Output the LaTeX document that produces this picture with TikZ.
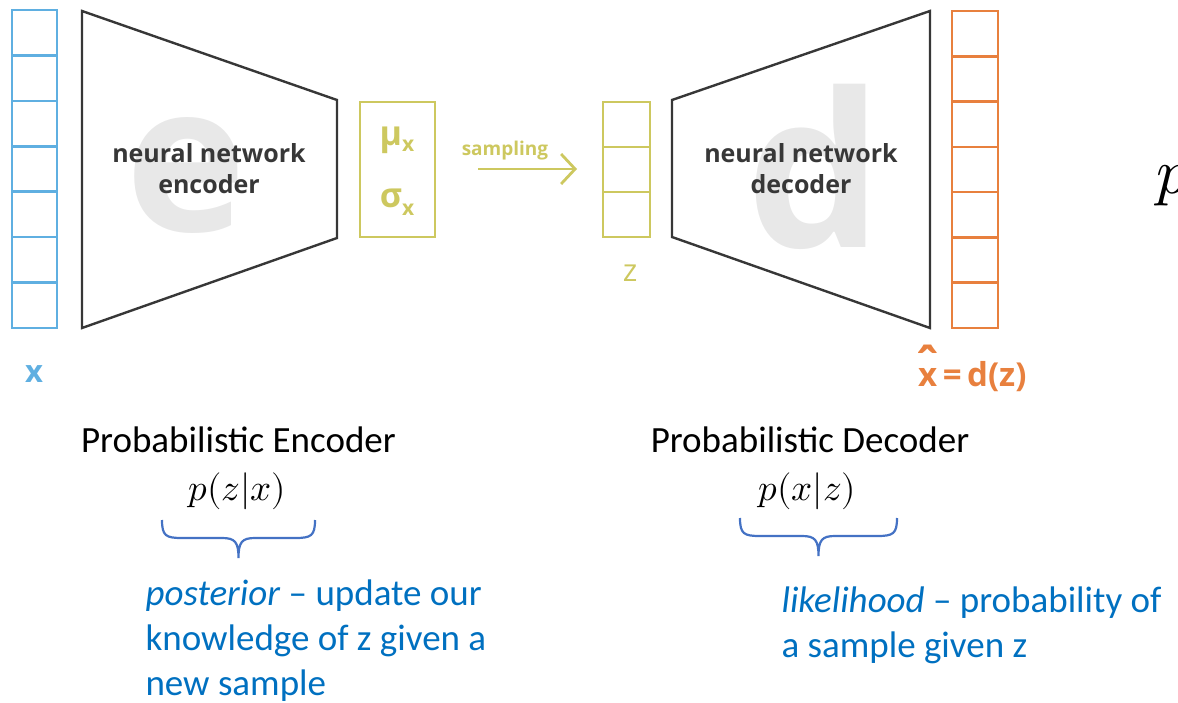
\documentclass[tikz,border=0pt]{standalone}
\usepackage{fontspec}
\usepackage{unicode-math}
\setmainfont{Carlito}
\setmathfont{Latin Modern Math}
\newfontfamily\osans{Open Sans}
\usetikzlibrary{arrows.meta}

\definecolor{inblue}{RGB}{95,175,225}
\definecolor{olive}{RGB}{205,200,95}
\definecolor{outorange}{RGB}{232,128,62}
\definecolor{netgray}{RGB}{55,55,55}
\definecolor{markgray}{RGB}{232,232,232}
\definecolor{bracecol}{RGB}{68,114,196}
\definecolor{notecol}{RGB}{0,112,192}

\tikzset{
  cellcol/.style={line width=2.6pt},
  net/.style={draw=netgray, line width=2.4pt, line join=miter},
  netlabel/.style={font=\osans\bfseries\fontsize{25}{31}\selectfont, text=netgray, align=center},
  watermark/.style={text=markgray, anchor=base},
  caption/.style={font=\fontsize{37}{44}\selectfont, anchor=base},
  formula/.style={font=\fontsize{37}{42}\selectfont},
  note/.style={font=\fontsize{37}{44}\selectfont, text=notecol, anchor=base west},
  curly/.style={draw=bracecol, line width=2.2pt},
}

\begin{document}
\begin{tikzpicture}[x=1pt,y=-1pt]
\useasboundingbox (0,0) rectangle (1178,703);

% ---------- input vector x ----------
\foreach \i in {0,...,6} {
  \draw[cellcol, draw=inblue] (12,{10+\i*45.43}) rectangle (57,{10+(\i+1)*45.43});
}
\coordinate (xin) at (34.5,169);
\node[font=\osans\bfseries\fontsize{31}{34}\selectfont, text=inblue] (xlab) at (34,374) {x};

% ---------- encoder ----------
\node[watermark, font=\osans\bfseries\fontsize{205}{205}\selectfont] (emark) at (186,232) {e};
\coordinate (e1) at (82,11);
\coordinate (e2) at (337,100);
\coordinate (e3) at (337,238);
\coordinate (e4) at (82,328);
\draw[net] (e1) -- (e2) -- (e3) -- (e4) -- cycle;
\node[netlabel] (enc) at (209,169) {neural network\\encoder};

% ---------- mean / std box ----------
\node[draw=olive, line width=2.6pt, minimum width=75pt, minimum height=135pt] (musig) at (397.5,169.5) {};
\node[font=\osans\bfseries\fontsize{34}{34}\selectfont, text=olive, anchor=base] (mu) at (397,146)
  {µ\raisebox{-6pt}{\fontsize{21}{21}\selectfont x}};
\node[font=\osans\bfseries\fontsize{34}{34}\selectfont, text=olive, anchor=base] (sig) at (397,208)
  {σ\raisebox{-8pt}{\fontsize{21}{21}\selectfont x}};

% ---------- sampling arrow ----------
\node[font=\osans\bfseries\fontsize{19}{22}\selectfont, text=olive] (samp) at (505,151) {sampling};
\coordinate (s1) at (478,169);
\coordinate (s2) at (577,169);
\draw[draw=olive, line width=2.8pt, -{Straight Barb[length=14pt, width=30pt, line width=2.8pt]}] (s1) -- (s2);

% ---------- latent z ----------
\foreach \i in {0,1,2} {
  \draw[cellcol, draw=olive] (603,{102+\i*45}) rectangle (650,{102+(\i+1)*45});
}
\node[font=\osans\fontsize{31}{34}\selectfont, text=olive] (zlab) at (630,273) {z};

% ---------- decoder ----------
\node[watermark, font=\osans\bfseries\fontsize{215}{215}\selectfont] (dmark) at (815,248) {d};
\coordinate (d1) at (672,100);
\coordinate (d2) at (930,11);
\coordinate (d3) at (930,328);
\coordinate (d4) at (672,237);
\draw[net] (d1) -- (d2) -- (d3) -- (d4) -- cycle;
\node[netlabel] (dec) at (801,169) {neural network\\decoder};

% ---------- reconstruction ----------
\foreach \i in {0,...,6} {
  \draw[cellcol, draw=outorange] (952,{11+\i*45.29}) rectangle (998,{11+(\i+1)*45.29});
}
\node[font=\osans\bfseries\fontsize{33}{36}\selectfont, text=outorange, anchor=base west, inner sep=0pt] (xhat) at (918,386)
  {x\,=\,d(z)};
\node[font=\osans\bfseries\fontsize{44}{44}\selectfont, text=outorange, anchor=north, inner sep=0pt, yscale=1.2] (hat) at (927.5,345) {ˆ};

% ---------- equation cut by the page edge ----------
\node[font=\fontsize{64}{64}\selectfont, anchor=base west, inner sep=0pt] (pcut) at (1156,194) {$p$};

% ---------- encoder caption ----------
\node[caption] (penc) at (238.5,452) {Probabilistic Encoder};
\node[formula] (pzx) at (237,491) {$p(z|x)$};
\coordinate (bl1) at (162,520);
\coordinate (bt1) at (238.5,558);
\coordinate (br1) at (315,520);
\draw[curly] (bl1) .. controls (162,536) and (166,538) .. (182,538) -- (222,538)
  .. controls (235,538) and (238.5,542) .. (bt1)
  .. controls (238.5,542) and (242,538) .. (255,538) -- (295,538)
  .. controls (311,538) and (315,536) .. (br1);
\node[note] (post1) at (142,605) {\textit{posterior} – update our};
\node[note] (post2) at (142,650) {knowledge of z given a};
\node[note] (post3) at (142,695) {new sample};

% ---------- decoder caption ----------
\node[caption] (pdec) at (810,452) {Probabilistic Decoder};
\node[formula] (pxz) at (807,491) {$p(x|z)$};
\coordinate (bl2) at (740,518);
\coordinate (bt2) at (818.5,556);
\coordinate (br2) at (897,518);
\draw[curly] (bl2) .. controls (740,534) and (744,536) .. (760,536) -- (802,536)
  .. controls (815,536) and (818.5,540) .. (bt2)
  .. controls (818.5,540) and (822,536) .. (835,536) -- (877,536)
  .. controls (893,536) and (897,534) .. (br2);
\node[note] (lik1) at (778,612) {\textit{likelihood} – probability of};
\node[note] (lik2) at (778,657) {a sample given z};
\end{tikzpicture}
\end{document}
